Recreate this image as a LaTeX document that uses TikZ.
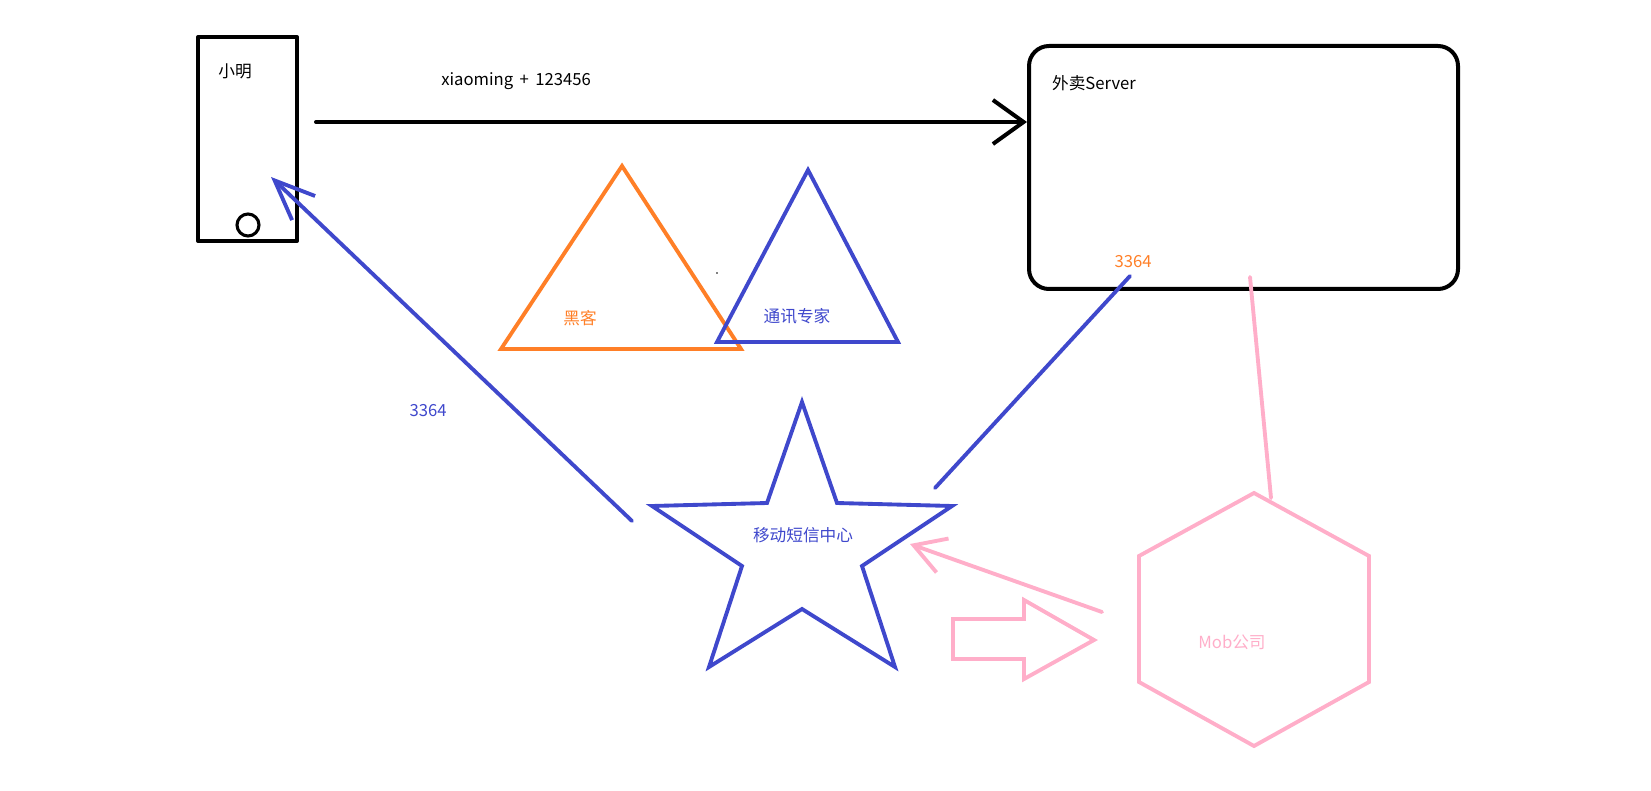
\documentclass[tikz,border=0pt]{standalone}
\usepackage{fontspec}
\setmainfont{Noto Sans CJK SC}
\usetikzlibrary{arrows.meta}
\definecolor{paintblue}{HTML}{3F48CC}
\definecolor{paintorange}{HTML}{FF7F27}
\definecolor{paintpink}{HTML}{FFAEC9}

\begin{document}
\begin{tikzpicture}[x=0.75pt,y=-0.75pt,
    pen/.style={line width=3pt,line join=round,line cap=round},
    crayon/.style={line width=2.9pt,line join=miter,line cap=round},
    lbl/.style={font=\fontsize{12.5pt}{15pt}\selectfont,inner sep=0pt}]
        \useasboundingbox (0,0) rectangle (1651,791);
        % phone and server
        \node[pen,draw,minimum width=74.25pt,minimum height=153pt] (phone) at (247.5,139) {};
        \node[draw,line width=2.3pt,circle,minimum size=16.5pt,inner sep=0pt] (button) at (248,225) {};
        \node[pen,draw,rounded corners=15pt,minimum width=321.75pt,minimum height=182.25pt] (server) at (1243.5,167.5) {};
        % texts
        \foreach \Pos/\Name/\Col/\Text in {(235,71)/ming/black/小明, (516,81)/login/black/{xiaoming\hspace{2pt} + \hspace{2pt}123456},
            (1094,83)/srvname/black/外卖Server, (1133,262)/codesrv/paintorange/3364,
            (580,318)/hacker/paintorange/黑客, (797,316)/expert/paintblue/通讯专家,
            (428,411)/codephone/paintblue/3364, (803,535)/sms/paintblue/移动短信中心,
            (1232,642)/mob/paintpink/Mob公司}
        \node[lbl,text=\Col] (\Name) at \Pos {\Text};
        % hacker and expert
        \draw[crayon,paintorange] (622,166) -- (741,349) -- (501,349) -- cycle;
        \draw[crayon,paintblue] (808,170) -- (898,342) -- (717,342) -- cycle;
        \fill (717,273) circle (0.8);
        % sms centre
        \draw[crayon,paintblue] (802,402) -- (837,503) -- (952,506) -- (862,566) -- (895,667) -- (802,609)
            -- (709,667) -- (742,566) -- (652,506) -- (767,503) -- cycle;
        % mob
        \draw[crayon,paintpink] (1254,493) -- (1369,556) -- (1369,682) -- (1254,746) -- (1139,682) -- (1139,556) -- cycle;
        \draw[crayon,paintpink,line join=miter] (953,619) -- (1024,619) -- (1024,600) -- (1094,640) -- (1024,679)
            -- (1024,659) -- (953,659) -- cycle;
        % connectors
        \coordinate (send) at (316,122);
        \coordinate (smsOut) at (632,521);
        \coordinate (phoneIn) at (271,177);
        \coordinate (srvOut) at (1130,276);
        \coordinate (smsIn) at (935,488);
        \coordinate (srvMob) at (1250,277);
        \coordinate (mobTop) at (1271,498);
        \coordinate (mobOut) at (1102,612);
        \coordinate (smsMob) at (910,544);
        \draw[pen,-{Straight Barb[length=23pt,width=33pt]}] (send) -- (server.west |- send);
        \draw[crayon,paintblue,-{Straight Barb[length=30pt,width=25pt]}] (smsOut) -- (phoneIn);
        \draw[crayon,paintblue] (srvOut) -- (smsIn);
        \draw[crayon,paintpink] (srvMob) -- (mobTop);
        \draw[crayon,paintpink,-{Straight Barb[length=23pt,width=27pt]}] (mobOut) -- (smsMob);
\end{tikzpicture}
\end{document}
